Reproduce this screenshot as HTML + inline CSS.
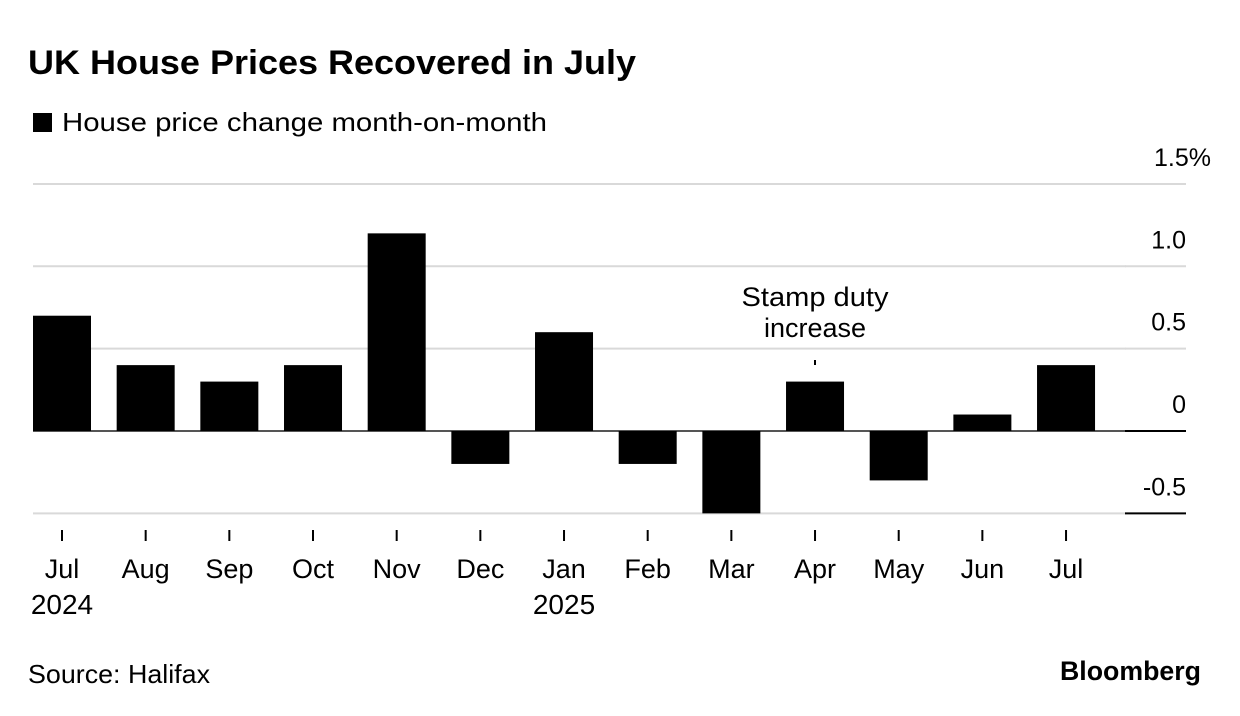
<!DOCTYPE html>
<html><head><meta charset="utf-8"><style>
html,body{margin:0;padding:0;background:#fff;}
svg{display:block;font-family:"Liberation Sans",sans-serif;}
</style></head><body>
<svg id="chart" width="1240" height="716" viewBox="0 0 1240 716" xmlns="http://www.w3.org/2000/svg">
<text x="28" y="74" font-size="34" font-weight="bold" textLength="608" lengthAdjust="spacingAndGlyphs">UK House Prices Recovered in July</text>
<rect x="33" y="113" width="19" height="19" fill="#000"/>
<text x="62" y="131" font-size="26" textLength="485" lengthAdjust="spacingAndGlyphs">House price change month-on-month</text>
<g id="grid"></g>
<g id="bars"></g>
<g id="xaxis"></g>
<text x="815" y="306" font-size="27" text-anchor="middle" textLength="147" lengthAdjust="spacingAndGlyphs">Stamp duty</text>
<text x="815" y="337" font-size="27" text-anchor="middle">increase</text>
<line x1="815" y1="360" x2="815" y2="365" stroke="#000" stroke-width="2"/>
<text x="28" y="683" font-size="26" textLength="182" lengthAdjust="spacingAndGlyphs">Source: Halifax</text>
<text x="1201" y="680" font-size="27" font-weight="bold" text-anchor="end" textLength="141" lengthAdjust="spacingAndGlyphs">Bloomberg</text>
</svg>
<script>
const categories=["Jul","Aug","Sep","Oct","Nov","Dec","Jan","Feb","Mar","Apr","May","Jun","Jul"];
const yearLabels=["2024","","","","","","2025","","","","","",""];
const values=[0.7,0.4,0.3,0.4,1.2,-0.2,0.6,-0.2,-0.5,0.3,-0.3,0.1,0.4];
const yTicks=[1.5,1.0,0.5,0,-0.5];
const yTickLabels=["1.5%","1.0","0.5","0","-0.5"];
const NS="http://www.w3.org/2000/svg";
const y=v=>431-v*164.7;
const x=i=>62+i*83.67;
const bw=58;
function mk(tag,attrs,parent){const e=document.createElementNS(NS,tag);for(const k in attrs)e.setAttribute(k,attrs[k]);parent.appendChild(e);return e;}
const grid=document.getElementById('grid');
yTicks.forEach((t,i)=>{
  const gl=mk('line',{x1:33,x2:1126,y1:y(t),y2:y(t),stroke:t===0?'#555':'#d9d9d9','stroke-width':2},grid);
  
  
  const s=mk('line',{x1:1125,x2:1186,y1:y(t),y2:y(t),stroke:(t===0||t===-0.5)?'#000':'#d9d9d9','stroke-width':2},grid);
  
  
  const lb=mk('text',{x:t===1.5?1211:1186,y:y(t)-18,'font-size':25,'text-anchor':'end'},grid);
  lb.textContent=yTickLabels[i];
  
  
});
const bars=document.getElementById('bars');
values.forEach((v,i)=>{
  const top=Math.min(y(v),y(0)),h=Math.abs(y(v)-y(0));
  const r=mk('rect',{x:x(i)-bw/2,y:top,width:bw,height:h,fill:'#000'},bars);
  
  
});
const xa=document.getElementById('xaxis');
categories.forEach((c,i)=>{
  const tk=mk('line',{x1:x(i),x2:x(i),y1:530,y2:541,stroke:'#000','stroke-width':2},xa);
  
  
  const t=mk('text',{x:x(i),y:578,'font-size':27,'text-anchor':'middle'},xa);
  t.textContent=c;
  
  
  if(yearLabels[i]){
    const yt=mk('text',{x:x(i),y:614,'font-size':28,'text-anchor':'middle'},xa);
    yt.textContent=yearLabels[i];
    
    
  }
});
</script>
</body></html>
